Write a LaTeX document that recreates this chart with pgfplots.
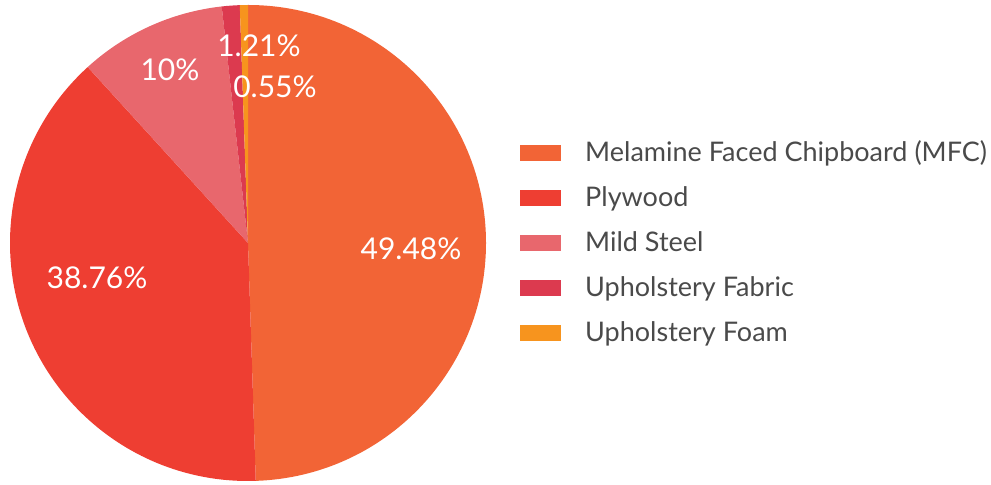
\documentclass[border=0pt]{standalone}
\usepackage{pgfplots}
\pgfplotsset{compat=1.18}
\usepackage{fontspec}
\setmainfont{Lato}
\definecolor{cMFC}{HTML}{F26436}
\definecolor{cPly}{HTML}{EE3E32}
\definecolor{cSteel}{HTML}{E8676D}
\definecolor{cFab}{HTML}{DC3A4F}
\definecolor{cFoam}{HTML}{F7941E}
\definecolor{txt}{HTML}{4A4A4A}
% data (percent)
\def\vA{49.48}\def\vB{38.76}\def\vC{10}\def\vD{1.21}\def\vE{0.55}
\pgfmathsetmacro\aA{90}
\pgfmathsetmacro\aB{\aA-3.6*\vA}
\pgfmathsetmacro\aC{\aB-3.6*\vB}
\pgfmathsetmacro\aD{\aC-3.6*\vC}
\pgfmathsetmacro\aE{\aD-3.6*\vD}
\pgfmathsetmacro\aF{\aE-3.6*\vE}
\newcommand\wedgeslice[3]{%
  \fill[#3] (axis cs:248,242) -- ([shift={(#1:238bp)}]axis cs:248,242)
    arc[start angle=#1, end angle=#2, radius=238bp] -- cycle;}
\begin{document}
\begin{tikzpicture}
\begin{axis}[
  width=991bp, height=485bp, scale only axis,
  xmin=0, xmax=991, ymin=0, ymax=485,
  hide axis, clip=false]
\wedgeslice{\aA}{\aB}{cMFC}
\wedgeslice{\aB}{\aC}{cPly}
\wedgeslice{\aC}{\aD}{cSteel}
\wedgeslice{\aD}{\aE}{cFab}
\wedgeslice{\aE}{\aF}{cFoam}
\begin{scope}[every node/.style={text=white, inner sep=0pt, font=\fontsize{30bp}{34bp}\selectfont}]
\node at (axis cs:411,236.5) {49.48\%};
\node at (axis cs:97,207.5) {38.76\%};
\node at (axis cs:170,415) {10\%};
\node at (axis cs:259,439) {1.21\%};
\node at (axis cs:275,398) {0.55\%};
\end{scope}
% legend
\begin{scope}[every node/.style={text=txt, anchor=base west, inner sep=0pt, font=\fontsize{27bp}{31bp}\selectfont}]
\fill[cMFC]   (axis cs:520,324) rectangle (axis cs:561,340);
\fill[cPly]   (axis cs:520,279) rectangle (axis cs:561,295);
\fill[cSteel] (axis cs:520,234) rectangle (axis cs:561,250);
\fill[cFab]   (axis cs:520,189) rectangle (axis cs:561,205);
\fill[cFoam]  (axis cs:520,144) rectangle (axis cs:561,160);
\node at (axis cs:585,323) {Melamine Faced Chipboard (MFC)};
\node at (axis cs:585,278) {Plywood};
\node at (axis cs:585,233) {Mild Steel};
\node at (axis cs:585,188) {Upholstery Fabric};
\node at (axis cs:585,143) {Upholstery Foam};
\end{scope}
\end{axis}
\pgfresetboundingbox
\useasboundingbox (current axis.south west) rectangle (current axis.north east);
\end{tikzpicture}
\end{document}
